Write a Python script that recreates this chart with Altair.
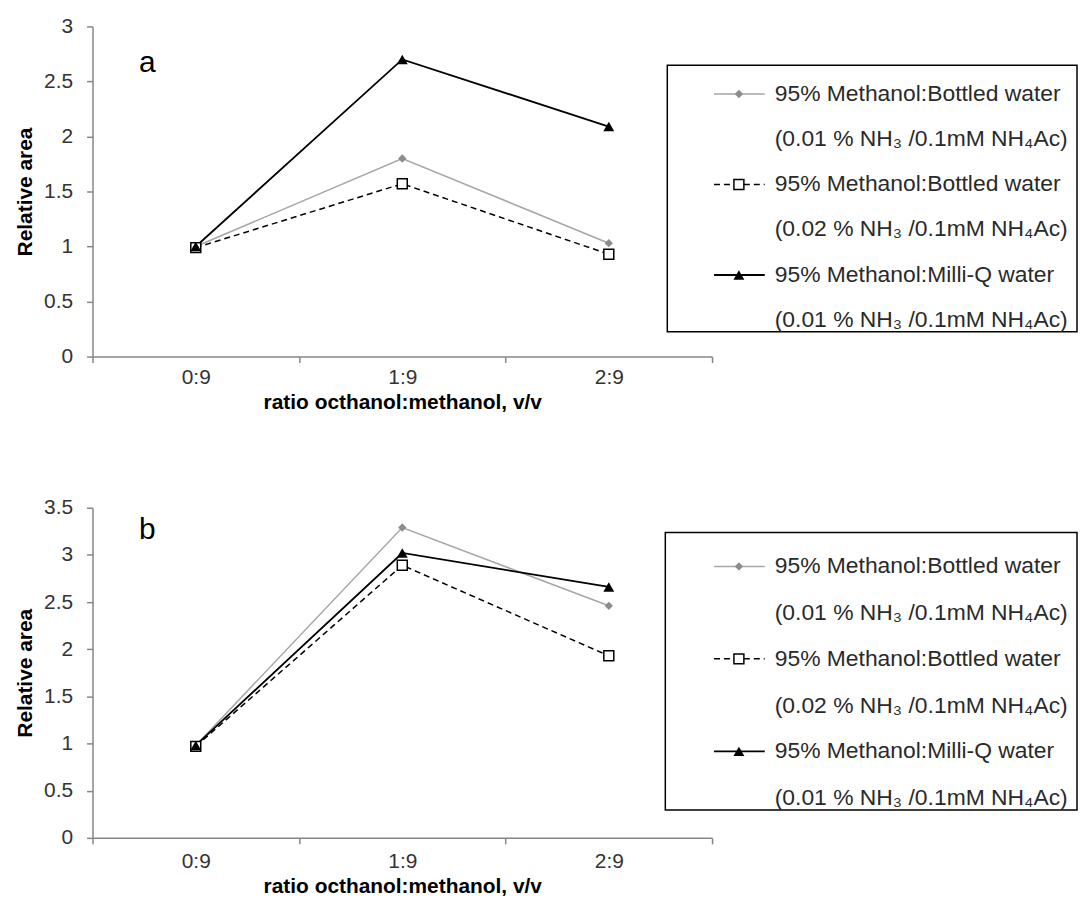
import altair as alt
import pandas as pd

# ---------------- data ----------------
categories = ["0:9", "1:9", "2:9"]
series_keys = ["bottled_001", "bottled_002", "milliq_001"]
legend_line1 = ["95% Methanol:Bottled water", "95% Methanol:Bottled water", "95% Methanol:Milli-Q water"]
legend_line2 = ["(0.01 % NH\u2083 /0.1mM NH\u2084Ac)", "(0.02 % NH\u2083 /0.1mM NH\u2084Ac)", "(0.01 % NH\u2083 /0.1mM NH\u2084Ac)"]

# panel a
a_bottled_001 = [1.00, 1.80, 1.03]
a_bottled_002 = [0.99, 1.57, 0.93]
a_milliq_001 = [1.00, 2.70, 2.09]
# panel b
b_bottled_001 = [0.98, 3.29, 2.46]
b_bottled_002 = [0.97, 2.89, 1.93]
b_milliq_001 = [0.98, 3.02, 2.66]

a_ticks = [0, 0.5, 1, 1.5, 2, 2.5, 3]
b_ticks = [0, 0.5, 1, 1.5, 2, 2.5, 3, 3.5]

FONT = "Liberation Sans"
X_TITLE = "ratio octhanol:methanol,  v/v"
Y_TITLE = "Relative area"

line_styles = {
    "bottled_001": dict(color="#A6A6A6", strokeWidth=1.5),
    "bottled_002": dict(color="black", strokeWidth=1.5, strokeDash=[6, 4]),
    "milliq_001": dict(color="black", strokeWidth=1.8),
}
point_styles = {
    "bottled_001": dict(shape="diamond", filled=True, fill="#8C8C8C", color="#8C8C8C", size=70, opacity=1),
    "bottled_002": dict(shape="square", filled=False, fill="white", color="black", strokeWidth=1.5, size=100, opacity=1, fillOpacity=1),
    "milliq_001": dict(shape="triangle-up", filled=True, fill="black", color="black", size=120, opacity=1),
}


def panel(letter, letter_y, series_values, ymax, ticks, H, legend_box, legend_rows, label_pad):
    W = 623
    x_enc = alt.X(
        "cat:N",
        sort=categories,
        scale=alt.Scale(type="band", domain=categories, paddingInner=0, paddingOuter=0),
        axis=alt.Axis(title=X_TITLE, tickBand="extent", labelAngle=0, tickSize=6,
                      labelPadding=label_pad, titlePadding=4),
    )
    y_enc = alt.Y(
        "value:Q",
        scale=alt.Scale(domain=[0, ymax], nice=False, zero=True),
        axis=alt.Axis(title=Y_TITLE, values=ticks, format="~g", grid=False, tickSize=6,
                      labelPadding=14, titlePadding=8),
    )
    layers = []
    for key, vals in zip(series_keys, series_values):
        df = pd.DataFrame({"cat": categories, "value": vals, "series": key})
        layers.append(alt.Chart(df).mark_line(**line_styles[key]).encode(x=x_enc, y=y_enc))
    for key, vals in zip(series_keys, series_values):
        df = pd.DataFrame({"cat": categories, "value": vals, "series": key})
        layers.append(alt.Chart(df).mark_point(**point_styles[key]).encode(x=x_enc, y=y_enc))

    one = pd.DataFrame({"k": [0]})
    layers.append(
        alt.Chart(pd.DataFrame({"t": [letter]})).mark_text(
            font=FONT, fontSize=30, color="black", align="center", baseline="middle"
        ).encode(text="t:N", x=alt.value(55), y=alt.value(letter_y))
    )
    bx0, bx1, by0, by1 = legend_box
    layers.append(
        alt.Chart(one).mark_rect(fill="white", stroke="black", strokeWidth=1.5).encode(
            x=alt.value(bx0), x2=alt.value(bx1), y=alt.value(by0), y2=alt.value(by1)
        )
    )
    sym_x0, sym_x1, sym_c, txt_x = 625, 676, 650, 686
    for i, key in enumerate(series_keys):
        y1 = legend_rows[2 * i]
        y2 = legend_rows[2 * i + 1]
        layers.append(
            alt.Chart(one).mark_rule(**line_styles[key]).encode(
                x=alt.value(sym_x0), x2=alt.value(sym_x1), y=alt.value(y1)
            )
        )
        layers.append(
            alt.Chart(one).mark_point(**point_styles[key]).encode(
                x=alt.value(sym_c), y=alt.value(y1)
            )
        )
        for yy, txt in ((y1, legend_line1[i]), (y2, legend_line2[i])):
            layers.append(
                alt.Chart(pd.DataFrame({"t": [txt]})).mark_text(
                    font=FONT, fontSize=23, color="#2a2a2a", align="left", baseline="middle"
                ).encode(text="t:N", x=alt.value(txt_x), y=alt.value(yy))
            )
    return alt.layer(*layers).properties(width=W, height=H)


top = panel(
    "a", 37,
    [a_bottled_001, a_bottled_002, a_milliq_001],
    3, a_ticks, 332,
    (578, 990, 39, 307),
    [68, 113, 159, 204, 250, 295],
    4,
)
bottom = panel(
    "b", 22,
    [b_bottled_001, b_bottled_002, b_milliq_001],
    3.5, b_ticks, 332,
    (576, 990, 25, 304),
    [59, 106, 152, 199, 245, 292],
    7,
)

chart = (
    alt.vconcat(top, bottom, spacing=85)
    .properties(padding={"left": 6, "top": 5, "right": 0, "bottom": 5})
    .configure_view(stroke=None)
    .configure_axis(
        labelFont=FONT, labelFontSize=21, labelColor="#333333",
        titleFont=FONT, titleFontSize=21, titleFontWeight="bold", titleColor="black",
        domainColor="#868686", tickColor="#868686", domainWidth=1.5, tickWidth=1.5,
    )
)

chart.save("out.html", embed_options={"renderer": "svg", "actions": False})
